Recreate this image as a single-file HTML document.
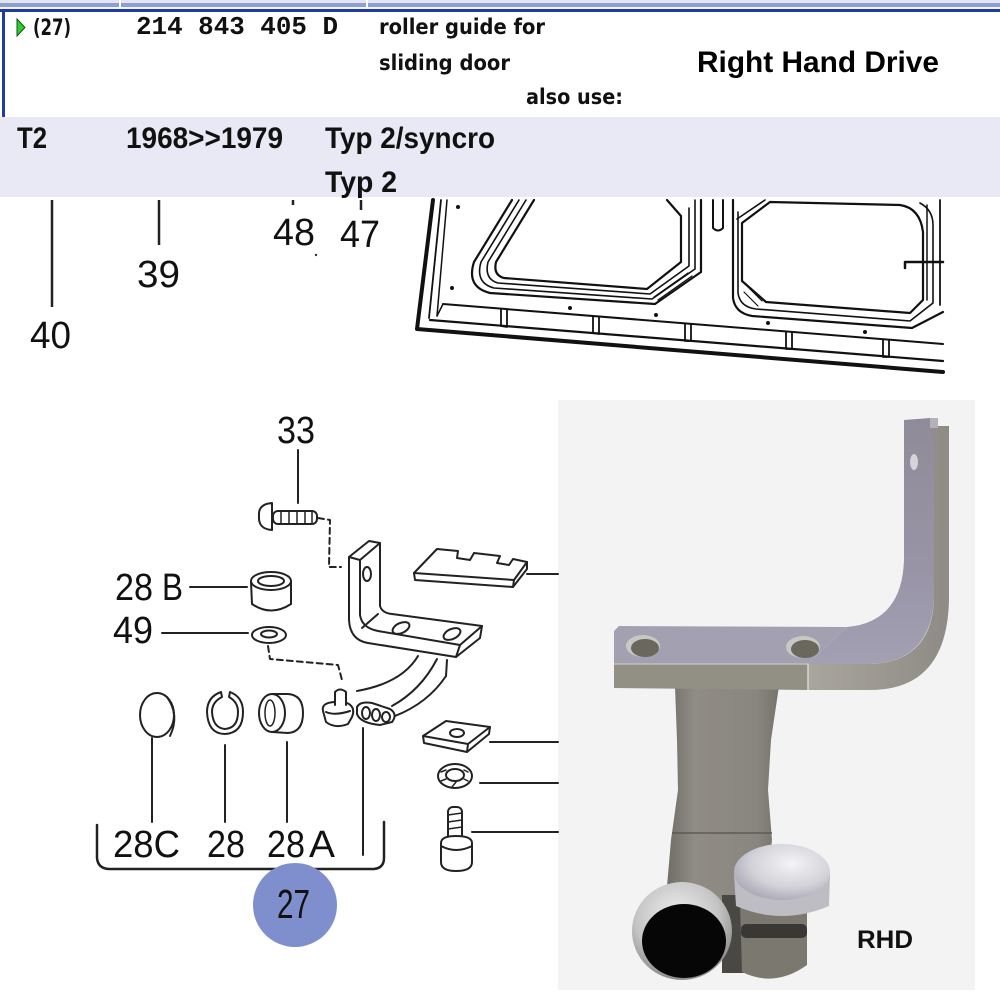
<!DOCTYPE html>
<html><head><meta charset="utf-8">
<style>
html,body{margin:0;padding:0;background:#fff;}
svg{display:block;}
</style></head><body>
<svg width="1000" height="1000" viewBox="0 0 1000 1000" xmlns="http://www.w3.org/2000/svg">
<defs>
  <radialGradient id="rim" cx="0.45" cy="0.35" r="0.7">
    <stop offset="0" stop-color="#eeeeee"/>
    <stop offset="0.6" stop-color="#c4c4c4"/>
    <stop offset="1" stop-color="#7e7e7e"/>
  </radialGradient>
  <radialGradient id="cap" cx="0.6" cy="0.35" r="0.7">
    <stop offset="0" stop-color="#f4f4f6"/>
    <stop offset="0.6" stop-color="#d2d2d8"/>
    <stop offset="1" stop-color="#a8a6b4"/>
  </radialGradient>
  <linearGradient id="stem" x1="0" y1="0" x2="1" y2="0">
    <stop offset="0" stop-color="#6f6c66"/>
    <stop offset="0.25" stop-color="#8f8c84"/>
    <stop offset="0.8" stop-color="#898680"/>
    <stop offset="1" stop-color="#76736c"/>
  </linearGradient>
  <linearGradient id="armface" x1="0" y1="0" x2="1" y2="0">
    <stop offset="0" stop-color="#a9a69e"/>
    <stop offset="1" stop-color="#8e8b84"/>
  </linearGradient>
  <linearGradient id="arminner" x1="0" y1="0" x2="0" y2="1">
    <stop offset="0" stop-color="#8f8b98"/>
    <stop offset="0.6" stop-color="#9894a6"/>
    <stop offset="1" stop-color="#a4a0b4"/>
  </linearGradient>
</defs>

<rect width="1000" height="1000" fill="#fff"/>

<!-- ===== HEADER ===== -->
<rect x="0" y="0" width="1000" height="3" fill="#e2e5f0"/>
<rect x="0" y="3" width="1000" height="4" fill="#8e9dd2"/>
<rect x="0" y="7" width="1000" height="2" fill="#f4f5fa"/>
<rect x="0" y="9" width="1000" height="3" fill="#1f3d9e"/>
<rect x="119" y="0" width="2" height="8" fill="#fff"/>
<rect x="366" y="0" width="2" height="8" fill="#fff"/>
<rect x="2" y="9" width="3" height="108" fill="#1f3d9e"/>

<polygon points="17,19 25,27.5 17,36" fill="#2ecc2e" stroke="#0b5a0b" stroke-width="1"/>
<g fill="#111" font-family="'DejaVu Sans', 'Liberation Sans', sans-serif" font-weight="bold" font-size="21">
  <text x="33" y="35" font-size="22" textLength="38" lengthAdjust="spacingAndGlyphs">(27)</text>
  <text x="379" y="34" textLength="166" lengthAdjust="spacingAndGlyphs">roller guide for</text>
  <text x="379" y="70" textLength="131" lengthAdjust="spacingAndGlyphs">sliding door</text>
  <text x="526" y="104" textLength="97" lengthAdjust="spacingAndGlyphs">also use:</text>
</g>
<text x="136" y="34" fill="#111" font-family="'Liberation Mono', monospace" font-weight="bold" font-size="26" textLength="202" lengthAdjust="spacingAndGlyphs">214 843 405 D</text>
<text x="697" y="72" fill="#000" font-family="'Liberation Sans', sans-serif" font-weight="bold" font-size="29.5" textLength="242" lengthAdjust="spacingAndGlyphs">Right Hand Drive</text>

<rect x="0" y="117" width="1000" height="80" fill="#e9e9f5"/>
<g fill="#111" font-family="'Liberation Sans', sans-serif" font-weight="bold" font-size="30">
  <text x="17" y="148" textLength="30" lengthAdjust="spacingAndGlyphs">T2</text>
  <text x="126" y="148" textLength="157" lengthAdjust="spacingAndGlyphs">1968&gt;&gt;1979</text>
  <text x="325" y="148" textLength="170" lengthAdjust="spacingAndGlyphs">Typ 2/syncro</text>
  <text x="325" y="192" textLength="72" lengthAdjust="spacingAndGlyphs">Typ 2</text>
</g>

<!-- ===== UPPER DIAGRAM LABELS ===== -->
<g stroke="#222" stroke-width="2.5" fill="none">
  <line x1="52" y1="200" x2="52" y2="307"/>
  <line x1="159" y1="200" x2="159" y2="245"/>
  <line x1="293" y1="200" x2="293" y2="205"/>
  <line x1="361" y1="200" x2="361" y2="210"/>
</g>
<circle cx="316" cy="255" r="1.2" fill="#333"/>
<g fill="#111" font-family="'Liberation Sans', sans-serif" font-size="38">
  <text x="30" y="348" textLength="41" lengthAdjust="spacingAndGlyphs">40</text>
  <text x="137" y="287" textLength="43" lengthAdjust="spacingAndGlyphs">39</text>
  <text x="273" y="245" textLength="42" lengthAdjust="spacingAndGlyphs">48</text>
  <text x="340" y="247" textLength="40" lengthAdjust="spacingAndGlyphs">47</text>
</g>

<!-- ===== DOOR DRAWING ===== -->
<g stroke="#111" fill="none" stroke-linejoin="round" stroke-linecap="round">
  <path d="M433,200 L417,329 L943,372" stroke-width="4"/>
  <path d="M441,200 L429,318" stroke-width="1.8"/>
  <path d="M447,200 L437,316" stroke-width="1.5"/>
  <path d="M443,304 L943,344" stroke-width="2"/>
  <path d="M430,320 L943,361" stroke-width="2.2"/>
  <path d="M437,316 L443,304" stroke-width="1.5"/>
  <path d="M501,309 L501,326 L507,327 L507,310" stroke-width="1.8"/>
  <path d="M593,316 L593,333 L599,334 L599,317" stroke-width="1.8"/>
  <path d="M685,324 L685,341 L691,341 L691,324" stroke-width="1.8"/>
  <path d="M786,332 L786,349 L792,349 L792,332" stroke-width="1.8"/>
  <path d="M883,340 L883,357 L889,357 L889,340" stroke-width="1.8"/>
  <path d="M512,200 L474,262 Q466,287 490,293 L655,304 L701,272 L701,200" stroke-width="2.2"/>
  <path d="M519,200 L481,262 Q475,283 494,288 L652,299 L695,269 L695,200" stroke-width="1.6"/>
  <path d="M526,200 L488,262 Q484,279 498,283 L650,294 L689,266 L689,208" stroke-width="1.6"/>
  <path d="M534,200 L496,262 Q493,275 504,278 L647,289 L681,262 L681,216 L667,200" stroke-width="2.2"/>
  <path d="M733,200 L733,298 Q735,313 752,316 L912,328 L943,312" stroke-width="2.2"/>
  <path d="M738,212 L738,293 Q740,307 756,309 L910,321 L933,303 L933,225 Q933,210 920,203" stroke-width="1.6"/>
  <path d="M742,223 L742,281 L766,302 L910,313 L923,300 L923,232 Q920,208 900,205 L770,202 Z" stroke-width="2.2"/>
  <path d="M737,219 L765,200" stroke-width="1.6"/>
  <path d="M927,205 L927,300" stroke-width="1.5"/>
  <path d="M940,200 L940,305" stroke-width="1.8"/>
  <path d="M744,292 L758,306 M748,287 L762,301 M654,297 L688,273 M658,300 L692,276" stroke-width="1.2"/>
  <path d="M713,200 L713,228 Q718,233 723,228 L723,200" stroke-width="2"/>
  <path d="M905,268 L905,262 L943,262" stroke-width="2.5"/>
</g>
<g fill="#111">
  <circle cx="458" cy="207" r="2"/>
  <circle cx="452" cy="288" r="2"/>
  <circle cx="570" cy="308" r="2"/>
  <circle cx="656" cy="315" r="2"/>
  <circle cx="768" cy="323" r="2"/>
  <circle cx="865" cy="332" r="2"/>
</g>

<!-- ===== PHOTO ===== -->
<rect x="558" y="400" width="417" height="590" fill="#f3f3f3"/>
<path d="M675,686 L779,686 L771,740 L768,790 L772,840 L768,880 L745,905 L700,905 L666,898 L671,840 L678,790 L677,740 Z" fill="url(#stem)"/>
<line x1="672" y1="833" x2="772" y2="833" stroke="#5e5b55" stroke-width="1.5"/>
<polygon points="614,631 619,626 847,627 808,664 614,664" fill="#a3a0b1"/>
<polygon points="614,664 808,664 808,690 614,688" fill="#928f84"/>
<!-- arm inner face -->
<path d="M904,420 L930,418 L934,418 L934,600 Q930,662 870,664 L808,664 L847,627 Q902,622 904,560 Z" fill="url(#arminner)"/>
<!-- arm front face -->
<path d="M934,426 L949,426 L949,600 Q947,690 870,690 L808,690 L808,664 L870,664 Q931,662 934,600 Z" fill="url(#armface)"/>
<rect x="930" y="418" width="8" height="10" fill="#b4b1b8"/>
<line x1="808" y1="664" x2="808" y2="690" stroke="#d8d6d0" stroke-width="1.5"/>
<line x1="614" y1="664" x2="808" y2="664" stroke="#c9c7c0" stroke-width="1.2"/>
<ellipse cx="914" cy="462" rx="4" ry="8" fill="#d6d4da"/>
<ellipse cx="643" cy="646" rx="17" ry="11" fill="#c8c7c4"/>
<ellipse cx="645" cy="648" rx="14" ry="9" fill="#6a675d"/>
<ellipse cx="803" cy="647" rx="17" ry="11" fill="#c8c7c4"/>
<ellipse cx="805" cy="649" rx="14" ry="9" fill="#6a675d"/>
<rect x="722" y="895" width="26" height="78" fill="#4a4844"/>
<ellipse cx="682" cy="931" rx="50" ry="49" fill="url(#rim)"/>
<ellipse cx="684" cy="941" rx="42" ry="37" fill="#060606"/>
<path d="M740,903 L807,903 L807,965 Q775,988 742,972 Z" fill="#7b7870"/>
<rect x="741" y="924" width="66" height="14" rx="5" fill="#3a3835"/>
<path d="M734,874 L736,906 Q782,926 829,906 L830,874 Z" fill="#bebdc4"/>
<ellipse cx="782" cy="872" rx="48" ry="28" fill="url(#cap)"/>
<text x="857" y="948" fill="#111" font-family="'Liberation Sans', sans-serif" font-weight="bold" font-size="25" textLength="56" lengthAdjust="spacingAndGlyphs">RHD</text>

<!-- ===== LOWER DIAGRAM ===== -->
<g stroke="#222" stroke-width="2" fill="none" stroke-linejoin="round" stroke-linecap="round">
  <line x1="298" y1="450" x2="298" y2="503"/>
  <line x1="190" y1="587" x2="247" y2="587"/>
  <line x1="162" y1="633" x2="248" y2="633"/>
  <line x1="152" y1="738" x2="152" y2="822"/>
  <line x1="225" y1="745" x2="225" y2="822"/>
  <line x1="287" y1="742" x2="287" y2="822"/>
  <line x1="363" y1="728" x2="363" y2="855"/>
  <line x1="527" y1="574" x2="558" y2="574"/>
  <line x1="490" y1="742" x2="558" y2="742"/>
  <line x1="480" y1="783" x2="558" y2="783"/>
  <line x1="472" y1="832" x2="558" y2="832"/>
  <path d="M97,825 L97,858 Q98,869 110,869 L283,869 L295,877 L307,869 L374,869 Q384,868 384,858 L384,822" stroke-width="2.5"/>

  <path d="M272,503 Q258,504 259,516 Q258,529 272,530 Z" fill="#fff"/>
  <rect x="273" y="511" width="44" height="13" rx="5" fill="#fff"/>
  <path d="M281,511 L281,524 M289,511 L289,524 M297,511 L297,524 M305,511 L305,524 M312,511 L312,524" stroke-width="1.5"/>
  <path d="M318,518 L330,520 L329,567 L341,567" stroke-dasharray="6 4"/>

  <path d="M251,582 L252,604 Q271,617 291,604 L291,582" fill="#fff"/>
  <ellipse cx="271" cy="581" rx="20" ry="9" fill="#fff"/>
  <ellipse cx="271" cy="581" rx="13" ry="5"/>
  <ellipse cx="269" cy="635" rx="17" ry="8" fill="#fff"/>
  <ellipse cx="269" cy="634" rx="8" ry="3.5"/>
  <path d="M268,646 L270,659 L338,665 L342,680" stroke-dasharray="6 4"/>

  <path d="M349,557 L349,620 Q350,640 368,643 L456,657 L480,638 L482,626 L392,614 Q382,613 380,606 L380,543 L369,541 Z" fill="#fff"/>
  <path d="M349,557 L360,560 L380,543"/>
  <path d="M360,560 L360,615 Q362,628 378,631 L460,645 L482,626"/>
  <path d="M460,645 L456,657"/>
  <path d="M362,628 L378,614"/>
  <ellipse cx="367" cy="574" rx="4" ry="7"/>
  <ellipse cx="401" cy="628" rx="9" ry="5" transform="rotate(-25 401 628)"/>
  <ellipse cx="452" cy="634" rx="9" ry="5" transform="rotate(-25 452 634)"/>
  <path d="M418,656 Q402,683 357,691"/>
  <path d="M437,659 Q421,690 392,706"/>
  <path d="M447,660 L446,676 Q428,703 395,716"/>

  <path d="M323,711 Q321,703 334,702 L347,703 Q356,707 352,717 L348,724 Q335,729 326,722 Z" fill="#fff"/>
  <path d="M326,712 Q335,716 350,711"/>
  <path d="M335,705 L335,692 Q340,687 346,692 L346,705" fill="#fff"/>
  <path d="M357,707 Q360,701 372,703 L390,709 Q398,714 392,722 L380,725 Q360,723 357,714 Z" fill="#fff"/>
  <ellipse cx="366" cy="713" rx="4" ry="6"/>
  <ellipse cx="376" cy="715" rx="4" ry="6"/>
  <ellipse cx="386" cy="717" rx="4" ry="5"/>

  <ellipse cx="157" cy="715" rx="17" ry="22" fill="#fff"/>
  <path d="M167,697 Q180,715 170,736"/>
  <path d="M221,692 Q207,697 207,712 Q208,734 225,734 Q243,733 243,712 Q243,697 230,692 L229,697 Q238,702 238,712 Q238,728 225,729 Q213,728 212,712 Q212,702 222,697 Z" fill="#fff"/>
  <path d="M272,694 L288,694 Q303,695 303,713 Q303,732 288,733 L272,732" fill="#fff"/>
  <ellipse cx="272" cy="713" rx="13" ry="19" fill="#fff"/>
  <ellipse cx="270" cy="713" rx="5" ry="13" stroke-width="1.5"/>

  <path d="M414,573 L415,580 L513,587 L527,569 L527,562" fill="#fff"/>
  <path d="M414,573 L437,549 L458,551 L457,558 L470,560 L474,553 L500,556 L497,563 L509,565 L513,559 L527,562 L514,580 Z" fill="#fff"/>
  <path d="M514,580 L513,587"/>
  <path d="M423,736 L424,743 L467,752 L489,734 L490,727" fill="#fff"/>
  <path d="M423,736 L446,721 L490,727 L468,744 Z" fill="#fff"/>
  <path d="M468,744 L467,752"/>
  <ellipse cx="457" cy="733" rx="7" ry="4"/>
  <ellipse cx="455" cy="776" rx="17" ry="12" fill="#fff"/>
  <ellipse cx="455" cy="775" rx="9" ry="6"/>
  <path d="M441,772 L446,770 M441,781 L446,779 M468,772 L464,770 M468,781 L464,779 M452,787 L456,782" stroke-width="1.5"/>
  <rect x="448" y="807" width="14" height="33" rx="5" fill="#fff"/>
  <path d="M448,815 L462,813 M448,822 L462,820 M448,829 L462,827" stroke-width="1.5"/>
  <path d="M441,843 Q441,836 456,836 Q472,836 472,843 L472,862 Q472,871 456,871 Q441,871 441,862 Z" fill="#fff"/>
  <path d="M441,846 Q456,854 472,846"/>
</g>

<circle cx="295" cy="905" r="42" fill="#7f8fcd"/>
<text x="277" y="918" fill="#111" font-family="'Liberation Sans', sans-serif" font-size="41" textLength="33" lengthAdjust="spacingAndGlyphs">27</text>

<g fill="#111" font-family="'Liberation Sans', sans-serif" font-size="38">
  <text x="277" y="443" textLength="38" lengthAdjust="spacingAndGlyphs">33</text>
  <text x="115" y="600" textLength="38" lengthAdjust="spacingAndGlyphs">28</text>
  <text x="162" y="600" textLength="21" lengthAdjust="spacingAndGlyphs">B</text>
  <text x="113" y="643" textLength="40" lengthAdjust="spacingAndGlyphs">49</text>
  <text x="113" y="857" textLength="67" lengthAdjust="spacingAndGlyphs">28C</text>
  <text x="207" y="857" textLength="38" lengthAdjust="spacingAndGlyphs">28</text>
  <text x="267" y="857" textLength="38" lengthAdjust="spacingAndGlyphs">28</text>
  <text x="309" y="857" textLength="26" lengthAdjust="spacingAndGlyphs">A</text>
</g>
</svg>
</body></html>
